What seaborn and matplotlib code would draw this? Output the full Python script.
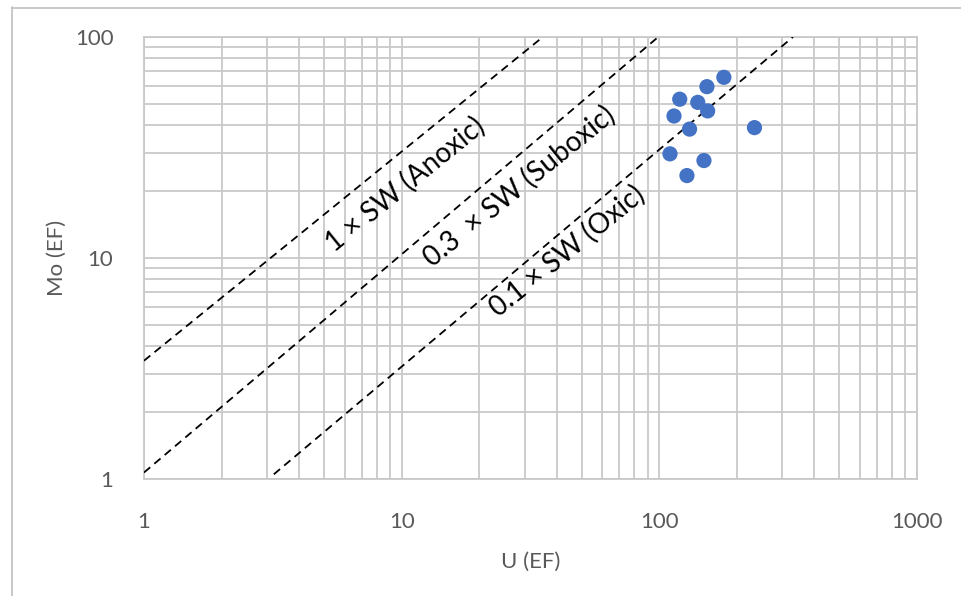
import matplotlib
matplotlib.use("Agg")
import matplotlib.pyplot as plt
from matplotlib.lines import Line2D
from matplotlib.ticker import LogLocator, FixedLocator, NullFormatter
import seaborn as sns
import pandas as pd

# sample enrichment factors
u_ef = [178, 153, 120, 141, 154, 114, 131, 234, 110, 149, 128]
mo_ef = [65.7, 59.6, 52.3, 50.6, 46.3, 43.9, 38.3, 38.9, 29.6, 27.6, 23.6]

# seawater Mo/U reference lines (end points)
anoxic_x = [1, 35.3]
anoxic_y = [3.43, 100]
suboxic_x = [1, 99]
suboxic_y = [1.07, 100]
oxic_x = [3.19, 330]
oxic_y = [1.05, 100]

line_labels = ["1 × SW (Anoxic)", "0.3  × SW (Suboxic)", "0.1 × SW (Oxic)"]
label_x = [10.3, 28.5, 44.0]
label_y = [21.5, 21.0, 10.8]

sns.set_style("white")
plt.rcParams['font.family'] = ['Lato', 'DejaVu Sans']

fig = plt.figure(figsize=(9.61, 5.96), dpi=100)
ax = fig.add_axes([144 / 961, 1 - 479 / 596, 773 / 961, 442 / 596])

df = pd.DataFrame({"U": u_ef, "Mo": mo_ef})

for xs, ys in [(anoxic_x, anoxic_y), (suboxic_x, suboxic_y), (oxic_x, oxic_y)]:
    sns.lineplot(x=xs, y=ys, ax=ax, color="black", lw=1.3,
                 linestyle=(0, (4.5, 3)), zorder=3)

sns.scatterplot(data=df, x="U", y="Mo", ax=ax, s=120, color="#4472C4",
                edgecolor="none", zorder=4)

ax.set_xscale("log")
ax.set_yscale("log")
ax.set_xlim(1, 1000)
ax.set_ylim(1, 100)

ax.xaxis.set_major_locator(FixedLocator([1, 10, 100, 1000]))
ax.yaxis.set_major_locator(FixedLocator([1, 10, 100]))
ax.xaxis.set_minor_locator(LogLocator(base=10, subs=range(2, 10)))
ax.yaxis.set_minor_locator(LogLocator(base=10, subs=range(2, 10)))
ax.xaxis.set_minor_formatter(NullFormatter())
ax.yaxis.set_minor_formatter(NullFormatter())
ax.set_xticklabels(["1", "10", "100", "1000"])
ax.set_yticklabels(["1", "10", "100"])

grid_col = "#C9C9C9"
ax.grid(True, which="both", color=grid_col, lw=1.3)
for s in ax.spines.values():
    s.set_color(grid_col)
    s.set_linewidth(1.3)
ax.tick_params(which="both", length=0, labelsize=16, labelcolor="#595959")
ax.tick_params(axis="x", pad=24)
ax.tick_params(axis="y", pad=22)

ax.set_xlabel("U (EF)", fontsize=16, color="#595959", labelpad=14)
ax.set_ylabel("Mo (EF)", fontsize=16, color="#595959", labelpad=6)

for txt, lx, ly in zip(line_labels, label_x, label_y):
    ax.text(lx, ly, txt, fontsize=20, color="black", rotation=39,
            rotation_mode="anchor", ha="center", va="center", zorder=5)

# chart area border
fig.add_artist(Line2D([11.5 / 961, 11.5 / 961], [1 - 7 / 596, 0],
                      transform=fig.transFigure, color="#BFBFBF", lw=1.2))
fig.add_artist(Line2D([11.5 / 961, 1], [1 - 7.5 / 596, 1 - 7.5 / 596],
                      transform=fig.transFigure, color="#BFBFBF", lw=1.2))

fig.savefig("out.png", dpi=100)
